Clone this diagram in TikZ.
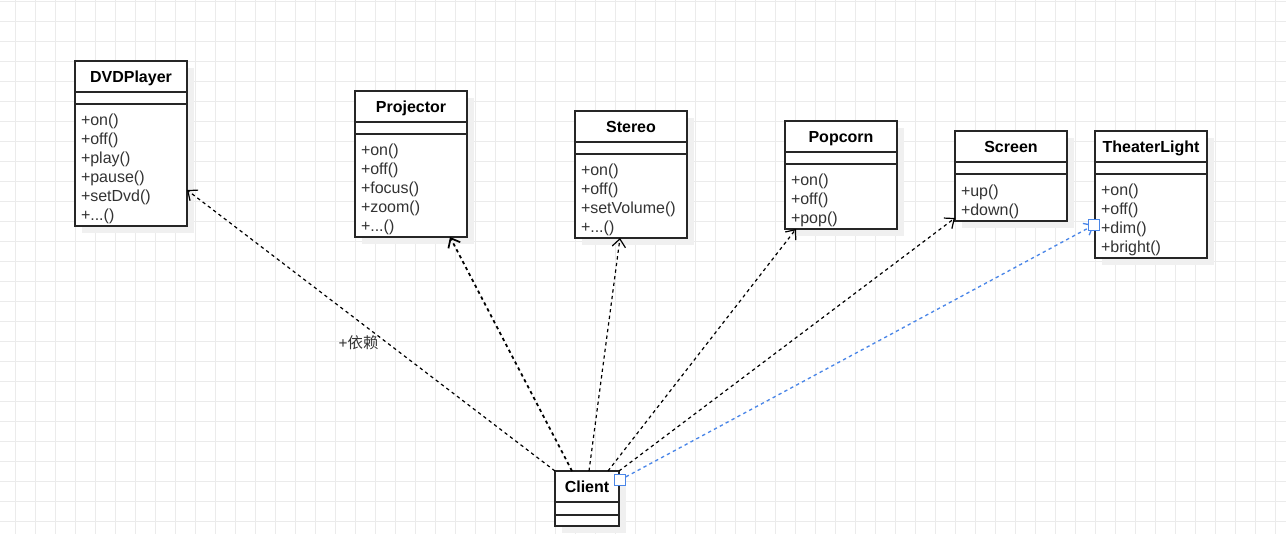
\documentclass[tikz,border=0pt]{standalone}
\usepackage{fontspec}
\setmainfont{Liberation Sans}
\newfontfamily\cjk{Noto Sans CJK SC}
\usepackage{xcolor}
\usepackage{tikz}
\usetikzlibrary{
  positioning,
  calc,
  arrows.meta,
  shadows
}
\definecolor{selblue}{HTML}{4A86E8}

\begin{document}
\begin{tikzpicture}[x=0.75pt,y=-0.75pt,
  gridline/.style={draw=black!8,line width=0.6pt},
  part/.style={draw=black!85,line width=0.8pt,fill=white,outer sep=0pt,inner sep=0pt,
    minimum width=84pt,drop shadow={shadow xshift=5pt,shadow yshift=-5pt,fill=black!6,opacity=1}},
  head/.style={part,minimum height=23.25pt,text height=8.6pt,text depth=0pt,
    font=\bfseries\fontsize{12}{14}\selectfont},
  attr/.style={part,minimum height=9pt},
  ops/.style={part,text width=75pt,inner xsep=4.5pt,align=left,text=black!80,
    font=\fontsize{12}{14.25}\selectfont,execute at begin node={\rule{0pt}{14.7pt}}},
  dep/.style={black,line width=0.9pt,dash pattern=on 2.5pt off 2.5pt,
    -{Straight Barb[length=6pt,width=10pt]}},
  handle/.style={draw=selblue,fill=white,line width=0.8pt,minimum size=8pt,inner sep=0pt}
]
  \useasboundingbox (0,0) rectangle (1286,534);
  \fill[white] (0,0) rectangle (1286,534);
  \foreach \x in {15,35,...,1275} \draw[gridline] (\x,0) -- (\x,534);
  \foreach \y in {1,21,...,521} \draw[gridline] (0,\y) -- (1286,\y);

  % classes
  \node[head] (dvd) at (131,76.5) {DVDPlayer};
  \node[attr,below=0pt of dvd] (dvd-a) {};
  \node[ops,below=0pt of dvd-a,minimum height=91.5pt] (dvd-o)
    {+on()\\+off()\\+play()\\+pause()\\+setDvd()\\+...()};

  \node[head] (proj) at (411,106.5) {Projector};
  \node[attr,below=0pt of proj] (proj-a) {};
  \node[ops,below=0pt of proj-a,minimum height=77.25pt] (proj-o)
    {+on()\\+off()\\+focus()\\+zoom()\\+...()};

  \node[head] (ster) at (631,126.5) {Stereo};
  \node[attr,below=0pt of ster] (ster-a) {};
  \node[ops,below=0pt of ster-a,minimum height=63pt] (ster-o)
    {+on()\\+off()\\+setVolume()\\+...()};

  \node[head] (pop) at (841,136.5) {Popcorn};
  \node[attr,below=0pt of pop] (pop-a) {};
  \node[ops,below=0pt of pop-a,minimum height=48.75pt] (pop-o)
    {+on()\\+off()\\+pop()};

  \node[head] (scr) at (1011,146.5) {Screen};
  \node[attr,below=0pt of scr] (scr-a) {};
  \node[ops,below=0pt of scr-a,minimum height=35.25pt] (scr-o)
    {+up()\\+down()};

  \node[head] (tl) at (1151,146.5) {TheaterLight};
  \node[attr,below=0pt of tl] (tl-a) {};
  \node[ops,below=0pt of tl-a,minimum height=63pt] (tl-o)
    {+on()\\+off()\\+dim()\\+bright()};

  \node[head,minimum width=48pt] (client) at (587,486.5) {Client};
  \node[attr,minimum width=48pt,minimum height=9.75pt,below=0pt of client] (client-a) {};
  \node[attr,minimum width=48pt,minimum height=8.25pt,below=0pt of client-a] (client-o) {};

  % dependencies
  \draw[dep] (client.north west) --
    node[pos=0.456,xshift=-21.5pt,text=black!80,font=\fontsize{11.5}{13}\selectfont] (lbl) {+{\cjk 依赖}}
    ($(dvd-o.north east)+(0,86)$);
  \draw[dep,line width=1.3pt] ($(client.north west)+(17,0)$) -- ($(proj-o.south west)+(95,0)$);
  \draw[dep] ($(client.north west)+(34,0)$) -- ($(ster-o.south west)+(45,0)$);
  \draw[dep] ($(client.north west)+(53,0)$) -- ($(pop-o.south west)+(11,0)$);
  \draw[dep] (client.north east) -- ($(scr-o.south west)+(0,-3)$);

  \coordinate (c1) at ($(client.north east)+(1,9)$);
  \coordinate (c2) at ($(tl-o.north west)+(-1,51)$);
  \draw[dep,selblue,line width=1pt] (c1) -- (c2);
  \node[handle] (h1) at (c1) {};
  \node[handle] (h2) at (c2) {};
\end{tikzpicture}
\end{document}
